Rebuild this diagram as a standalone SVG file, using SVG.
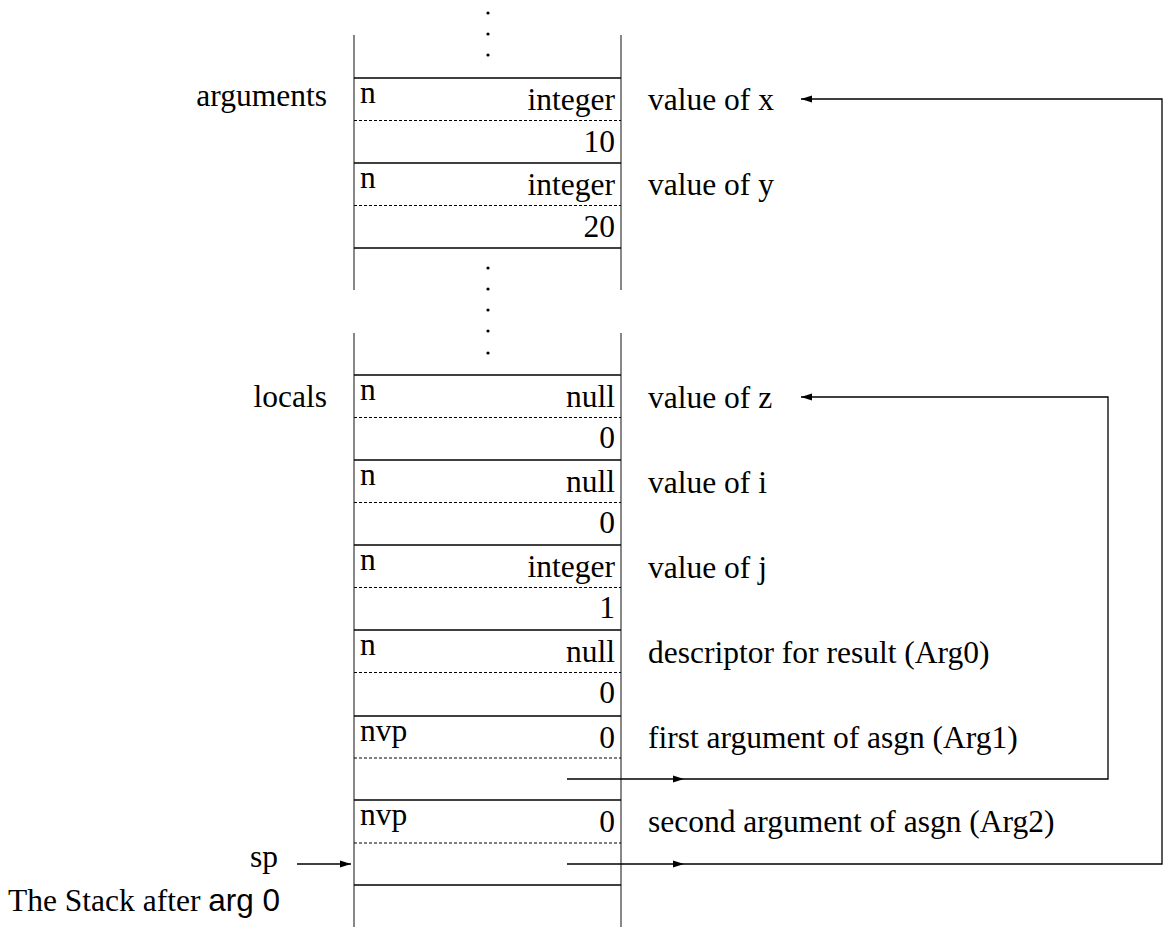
<svg xmlns="http://www.w3.org/2000/svg" width="1165" height="936" viewBox="0 0 1165 936">
<style>
text{font-family:'Liberation Serif','DejaVu Serif',serif;font-size:31.5px;fill:#000}
.r{text-anchor:end}
.sans{font-family:'Liberation Sans','DejaVu Sans',sans-serif}
.col{stroke:#555;stroke-width:1.4;fill:none}
.sol{stroke:#000;stroke-width:1.6;fill:none}
.dot{stroke:#000;stroke-width:1;stroke-dasharray:3 2;fill:none}
.con{stroke:#000;stroke-width:1.3;fill:none}
.ah{fill:#000}
</style>
<defs>
<marker id="arr" markerWidth="12" markerHeight="8" refX="11" refY="4" orient="auto" markerUnits="userSpaceOnUse">
<path d="M0,0.5 L11,4 L0,7.5 Z" class="ah"/>
</marker>
</defs>
<g id="column">
<line class="col" x1="354" y1="35" x2="354" y2="290"/>
<line class="col" x1="621" y1="35" x2="621" y2="290"/>
<line class="col" x1="354" y1="333" x2="354" y2="927"/>
<line class="col" x1="621" y1="333" x2="621" y2="927"/>
<g fill="#000">
<circle cx="488" cy="13" r="1.6"/><circle cx="488" cy="34" r="1.6"/><circle cx="488" cy="55" r="1.6"/>
<circle cx="488" cy="268" r="1.6"/><circle cx="488" cy="289" r="1.6"/><circle cx="488" cy="310" r="1.6"/><circle cx="488" cy="331" r="1.6"/><circle cx="488" cy="353" r="1.6"/>
</g>
</g>
<g id="arg-x">
<line class="sol" x1="354" y1="78" x2="621" y2="78"/>
<line class="dot" x1="354" y1="120.5" x2="621" y2="120.5"/>
<text x="360" y="103">n</text><text class="r" x="615" y="110">integer</text><text class="r" x="615" y="152">10</text>
<text x="648" y="110">value of x</text>
</g>
<g id="arg-y">
<line class="sol" x1="354" y1="163" x2="621" y2="163"/>
<line class="dot" x1="354" y1="205.5" x2="621" y2="205.5"/>
<text x="360" y="188">n</text><text class="r" x="615" y="195">integer</text><text class="r" x="615" y="237">20</text>
<text x="648" y="195">value of y</text>
<line class="sol" x1="354" y1="248" x2="621" y2="248"/>
</g>
<g id="loc-z">
<line class="sol" x1="354" y1="375" x2="621" y2="375"/>
<line class="dot" x1="354" y1="417.5" x2="621" y2="417.5"/>
<text x="360" y="400">n</text><text class="r" x="615" y="407">null</text><text class="r" x="615" y="448">0</text>
<text x="648" y="408">value of z</text>
</g>
<g id="loc-i">
<line class="sol" x1="354" y1="460" x2="621" y2="460"/>
<line class="dot" x1="354" y1="502.5" x2="621" y2="502.5"/>
<text x="360" y="485">n</text><text class="r" x="615" y="492">null</text><text class="r" x="615" y="533">0</text>
<text x="648" y="493">value of i</text>
</g>
<g id="loc-j">
<line class="sol" x1="354" y1="545" x2="621" y2="545"/>
<line class="dot" x1="354" y1="587.5" x2="621" y2="587.5"/>
<text x="360" y="570">n</text><text class="r" x="615" y="577">integer</text><text class="r" x="615" y="618">1</text>
<text x="648" y="578">value of j</text>
</g>
<g id="result">
<line class="sol" x1="354" y1="630" x2="621" y2="630"/>
<line class="dot" x1="354" y1="672.5" x2="621" y2="672.5"/>
<text x="360" y="655">n</text><text class="r" x="615" y="662">null</text><text class="r" x="615" y="703">0</text>
<text x="648" y="663">descriptor for result (Arg0)</text>
</g>
<g id="arg1">
<line class="sol" x1="354" y1="716" x2="621" y2="716"/>
<line class="dot" x1="354" y1="758" x2="621" y2="758"/>
<text x="360" y="741">nvp</text><text class="r" x="615" y="748">0</text>
<text x="648" y="748">first argument of asgn (Arg1)</text>
</g>
<g id="arg2">
<line class="sol" x1="354" y1="800" x2="621" y2="800"/>
<line class="dot" x1="354" y1="843" x2="621" y2="843"/>
<text x="360" y="825">nvp</text><text class="r" x="615" y="832">0</text>
<text x="648" y="832">second argument of asgn (Arg2)</text>
<line class="sol" x1="354" y1="885" x2="621" y2="885"/>
</g>
<g id="labels">
<text class="r" x="327" y="106">arguments</text>
<text class="r" x="327" y="407">locals</text>
<text class="r" x="278" y="867">sp</text>
<text x="8" y="911">The Stack after <tspan class="sans">arg 0</tspan></text>
</g>
<g id="connectors">
<line class="con" x1="297" y1="864" x2="351" y2="864" marker-end="url(#arr)"/>
<line class="con" x1="567" y1="779" x2="684" y2="779" marker-end="url(#arr)"/>
<polyline class="con" points="684,779 1108,779 1108,397 801,397" marker-end="url(#arr)"/>
<line class="con" x1="567" y1="864" x2="684" y2="864" marker-end="url(#arr)"/>
<polyline class="con" points="684,864 1162,864 1162,99 801,99" marker-end="url(#arr)"/>
</g>
</svg>
